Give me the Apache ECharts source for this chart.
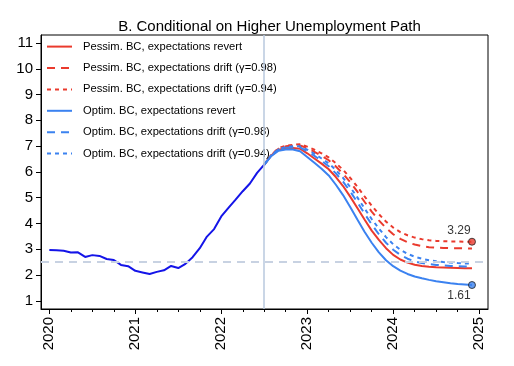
<!DOCTYPE html>
<html>
<head>
<meta charset="utf-8">
<script src="https://cdn.jsdelivr.net/npm/echarts@6/dist/echarts.min.js"></script>
<style>html,body{margin:0;padding:0;background:#fff}#c{width:514px;height:366px}</style>
</head>
<body>
<div id="c"></div>
<script>
// ---- Data ----
const startYear = 2020;               // history starts Jan 2020, monthly
const forecastStartMonth = 30;        // Jul 2022 (index into monthly axis)
const yearTicks = [2020, 2021, 2022, 2023, 2024, 2025];
const yTicks = [1, 2, 3, 4, 5, 6, 7, 8, 9, 10, 11];
const targetLevel = 2.5;
const forecastStart = 2022.5;

const history = [2.97,2.96,2.94,2.87,2.88,2.70,2.77,2.74,2.62,2.58,2.39,2.34,2.16,2.10,2.04,2.12,2.18,2.35,2.27,2.43,2.69,3.04,3.49,3.78,4.27,4.60,4.92,5.25,5.55,5.96,6.28];

const pessRevert = [6.28,6.64,6.86,6.92,6.93,6.90,6.72,6.52,6.32,6.10,5.80,5.45,5.04,4.60,4.15,3.72,3.36,3.04,2.78,2.60,2.48,2.40,2.35,2.32,2.30,2.29,2.28,2.27,2.26,2.26];
const pessDrift98 = [6.28,6.66,6.90,6.99,7.02,7.03,6.92,6.78,6.62,6.45,6.21,5.93,5.60,5.23,4.84,4.46,4.12,3.82,3.58,3.40,3.27,3.18,3.12,3.08,3.06,3.05,3.04,3.04,3.03,3.03];
const pessDrift94 = [6.28,6.67,6.92,7.01,7.05,7.07,6.98,6.86,6.72,6.56,6.34,6.08,5.77,5.42,5.05,4.69,4.36,4.07,3.84,3.66,3.54,3.45,3.39,3.35,3.32,3.31,3.30,3.30,3.29,3.29];
const optRevert = [6.28,6.62,6.82,6.87,6.87,6.80,6.58,6.35,6.12,5.86,5.50,5.10,4.64,4.15,3.68,3.25,2.88,2.57,2.34,2.17,2.04,1.94,1.87,1.81,1.76,1.72,1.68,1.65,1.63,1.61];
const optDrift98 = [6.28,6.64,6.87,6.94,6.96,6.95,6.80,6.62,6.43,6.22,5.94,5.62,5.24,4.82,4.38,3.96,3.58,3.25,2.98,2.78,2.63,2.53,2.46,2.42,2.39,2.37,2.35,2.34,2.33,2.33];
const optDrift94 = [6.28,6.65,6.88,6.96,6.99,6.99,6.86,6.70,6.52,6.33,6.07,5.77,5.41,5.01,4.58,4.17,3.80,3.47,3.19,2.98,2.82,2.71,2.63,2.57,2.53,2.50,2.48,2.46,2.45,2.44];

const names = [
  'Pessim. BC, expectations revert',
  'Pessim. BC, expectations drift (\u03b3=0.98)',
  'Pessim. BC, expectations drift (\u03b3=0.94)',
  'Optim. BC, expectations revert',
  'Optim. BC, expectations drift (\u03b3=0.98)',
  'Optim. BC, expectations drift (\u03b3=0.94)'
];

// ---- Build ----
const RED = '#ea3a2d', BLUE = '#3b82f0', HIST = '#1414e8';
const FONT = 'Liberation Sans, Arial, sans-serif';
const t = i => startYear + i / 12;
const histPts = history.map((v, i) => [t(i), v]);
const fc = arr => arr.map((v, k) => [t(forecastStartMonth + k), v]);

const quarterTicks = [];
for (let y = yearTicks[0] - 1; y <= yearTicks[yearTicks.length - 1]; y++) {
  for (let q = 0; q < 4; q++) quarterTicks.push(y + q / 4);
}
const xMin = 2019.903, xMax = 2025.103;

function lineSeries(name, data, color, type) {
  return {
    name, type: 'line', data: fc(data), symbol: 'none', z: 3,
    lineStyle: { color, width: 2, type: type },
    itemStyle: { color },
    animation: false
  };
}

const lastIdx = pessDrift94.length - 1;
const option = {
  animation: false,
  title: {
    text: 'B. Conditional on Higher Unemployment Path',
    left: 264.5, textAlign: 'center', top: 14,
    textStyle: { fontFamily: FONT, fontSize: 15, fontWeight: 'normal', color: '#000' }
  },
  legend: {
    data: names,
    orient: 'vertical', left: 46, top: 41, padding: 0,
    itemWidth: 25, itemHeight: 14, itemGap: 10.2,
    itemStyle: { opacity: 0 },
    textStyle: { fontFamily: FONT, fontSize: 11.2, color: '#000', padding: [0, 0, 0, 6] },
    selectedMode: false
  },
  grid: { left: 41, right: 26, top: 35, bottom: 57, show: true, borderColor: '#000', borderWidth: 1, outerBoundsMode: 'none' },
  xAxis: [{
    type: 'value', min: xMin, max: xMax,
    axisLine: { show: true, lineStyle: { color: '#000' } },
    axisTick: { show: true, length: 5, inside: false, customValues: yearTicks, lineStyle: { color: '#000' } },
    axisLabel: { customValues: yearTicks, rotate: 90, margin: 8, fontFamily: FONT, fontSize: 15, color: '#000', formatter: v => String(Math.round(v)) },
    splitLine: { show: false }
  }, {
    type: 'value', min: xMin, max: xMax, position: 'bottom',
    axisLine: { show: false },
    axisTick: { show: true, length: 3, customValues: quarterTicks, lineStyle: { color: '#000' } },
    axisLabel: { show: false },
    splitLine: { show: false }
  }],
  yAxis: {
    type: 'value', min: 0.68, max: 11.31,
    axisLine: { show: true, lineStyle: { color: '#000' } },
    axisTick: { show: true, length: 5, customValues: yTicks, lineStyle: { color: '#000' } },
    axisLabel: { customValues: yTicks, margin: 8, fontFamily: FONT, fontSize: 15, color: '#000' },
    splitLine: { show: false }
  },
  series: [
    {
      name: 'refs', type: 'line', data: [], z: 1, silent: true,
      markLine: {
        silent: true, symbol: 'none', label: { show: false }, animation: false,
        data: [
          { xAxis: forecastStart, lineStyle: { color: '#b9c9de', width: 1.5, type: 'solid' } },
          { yAxis: targetLevel, lineStyle: { color: '#c8d2e2', width: 2, type: [8, 6] } }
        ]
      }
    },
    { name: 'history', type: 'line', data: histPts, symbol: 'none', z: 4, lineStyle: { color: HIST, width: 2 }, animation: false },
    lineSeries(names[0], pessRevert, RED, 'solid'),
    lineSeries(names[1], pessDrift98, RED, [8, 6]),
    lineSeries(names[2], pessDrift94, RED, [4, 4]),
    lineSeries(names[3], optRevert, BLUE, 'solid'),
    lineSeries(names[4], optDrift98, BLUE, [8, 6]),
    lineSeries(names[5], optDrift94, BLUE, [4, 4]),
    {
      name: 'endHigh', type: 'scatter', z: 6, symbolSize: 7,
      data: [[t(forecastStartMonth + lastIdx), pessDrift94[lastIdx]]],
      itemStyle: { color: RED, borderColor: '#222', borderWidth: 1 },
      label: { show: true, position: 'top', distance: 1, offset: [-13, 0], fontFamily: FONT, fontSize: 12, color: '#000', formatter: p => p.value[1].toFixed(2) }
    },
    {
      name: 'endLow', type: 'scatter', z: 6, symbolSize: 7,
      data: [[t(forecastStartMonth + lastIdx), optRevert[lastIdx]]],
      itemStyle: { color: BLUE, borderColor: '#222', borderWidth: 1 },
      label: { show: true, position: 'bottom', distance: 1, offset: [-13, 0], fontFamily: FONT, fontSize: 12, color: '#000', formatter: p => p.value[1].toFixed(2) }
    }
  ]
};
const chart = echarts.init(document.getElementById('c'), null, { renderer: 'canvas' });
chart.setOption(option);
</script>
</body>
</html>
